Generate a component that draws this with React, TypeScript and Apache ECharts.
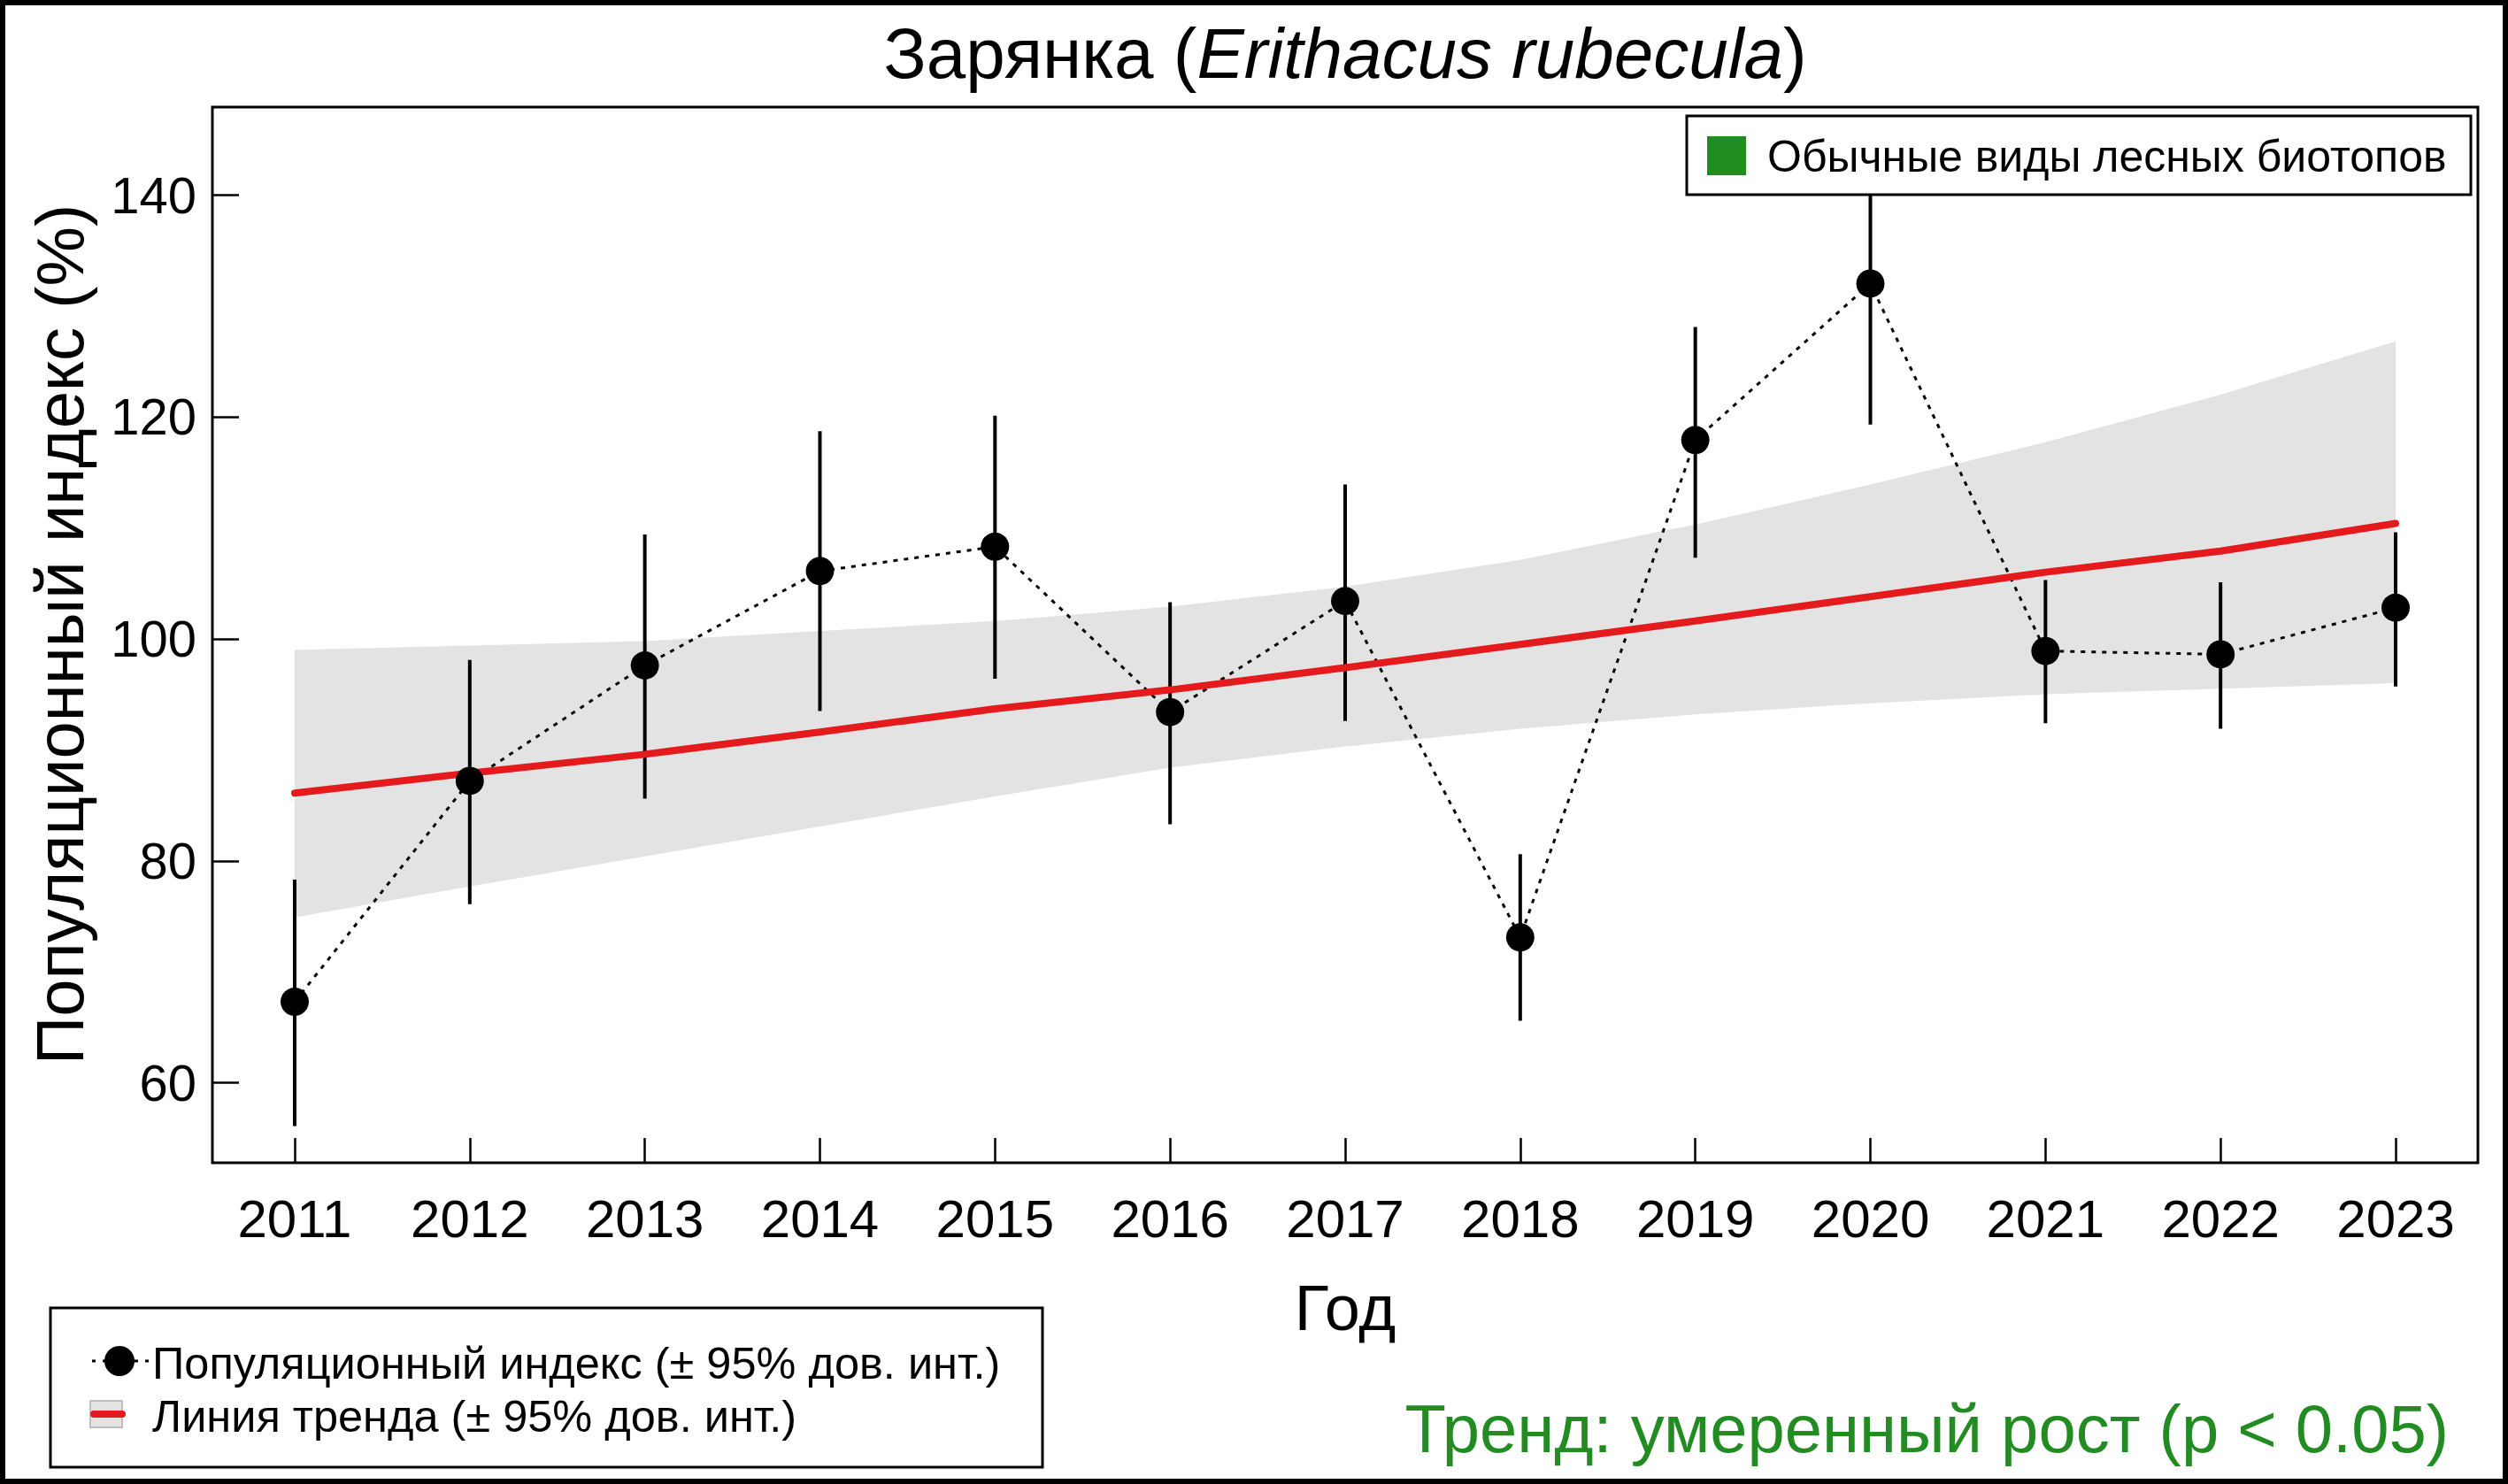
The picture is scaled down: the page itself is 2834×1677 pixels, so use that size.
import React, { useEffect, useRef } from "react";
import * as echarts from "echarts";

const years = [2011, 2012, 2013, 2014, 2015, 2016, 2017, 2018, 2019, 2020, 2021, 2022, 2023];
const indexValues = [67.3, 87.2, 97.6, 106.1, 108.3, 93.4, 103.4, 73.1, 117.9, 132.0, 98.9, 98.6, 102.8];
const indexLower = [56.1, 76.1, 85.6, 93.5, 96.4, 83.3, 92.6, 65.6, 107.3, 119.3, 92.4, 91.9, 95.7];
const indexUpper = [78.3, 98.1, 109.4, 118.7, 120.1, 103.3, 113.9, 80.6, 128.1, 144.4, 105.3, 105.1, 109.6];
const trendValues = [86.1, 87.9, 89.6, 91.6, 93.7, 95.4, 97.4, 99.5, 101.6, 103.8, 106.0, 107.9, 110.4];
const trendLower = [74.9, 77.7, 80.4, 83.1, 85.8, 88.4, 90.3, 91.9, 93.2, 94.2, 95.0, 95.5, 96.0];
const trendUpper = [99.0, 99.4, 99.8, 100.7, 101.6, 102.9, 104.7, 107.1, 110.3, 113.9, 117.7, 122.0, 126.8];
const yTicks = [60, 80, 100, 120, 140];

const FONT = '"Liberation Sans", Arial, sans-serif';
const GREEN = "#228B22";
const RED = "#e41a1c";

export default function App() {
  const ref = useRef<HTMLDivElement>(null);
  useEffect(() => {
    if (!ref.current) return;
    const chart = echarts.init(ref.current, null, { renderer: "svg" });
    const option: any = {
      animation: false,
      backgroundColor: "#fff",
      grid: {
        left: 240,
        top: 121,
        right: 34,
        bottom: 363,
        show: true,
        borderColor: "#000",
        borderWidth: 3,
        backgroundColor: "transparent",
        containLabel: false,
      },
      xAxis: {
        type: "value",
        min: 2010.53,
        max: 2023.47,
        axisLine: { show: false },
        splitLine: { show: false },
        axisTick: {
          show: true,
          inside: true,
          length: 28,
          lineStyle: { color: "#000", width: 2.5 },
          customValues: years,
        },
        axisLabel: {
          customValues: years,
          fontSize: 60,
          fontFamily: FONT,
          color: "#000",
          margin: 33,
          formatter: (v: number) => String(v),
        },
      },
      yAxis: {
        type: "value",
        min: 52.8,
        max: 147.9,
        axisLine: { show: false },
        splitLine: { show: false },
        axisTick: {
          show: true,
          inside: true,
          length: 30,
          lineStyle: { color: "#000", width: 2.5 },
          customValues: yTicks,
        },
        axisLabel: {
          customValues: yTicks,
          fontSize: 58,
          fontFamily: FONT,
          color: "#000",
          margin: 18,
          formatter: (v: number) => String(v),
        },
      },
      series: [
        {
          type: "custom",
          name: "band",
          z: 1,
          silent: true,
          data: [[years[0], trendValues[0]]],
          renderItem: (params: any, api: any) => {
            const pts: number[][] = [];
            years.forEach((y, i) => pts.push(api.coord([y, trendUpper[i]])));
            for (let i = years.length - 1; i >= 0; i--) pts.push(api.coord([years[i], trendLower[i]]));
            return { type: "polygon", shape: { points: pts }, style: { fill: "#e3e3e3" } };
          },
        },
        {
          type: "custom",
          name: "errorbars",
          z: 2,
          silent: true,
          encode: { x: 0, y: [1, 2] },
          data: years.map((y, i) => [y, indexLower[i], indexUpper[i]]),
          renderItem: (params: any, api: any) => {
            const x = api.value(0);
            const p1 = api.coord([x, api.value(1)]);
            const p2 = api.coord([x, api.value(2)]);
            return {
              type: "line",
              shape: { x1: p1[0], y1: p1[1], x2: p2[0], y2: p2[1] },
              style: { stroke: "#000", lineWidth: 4 },
            };
          },
        },
        {
          type: "line",
          name: "dotted",
          z: 3,
          silent: true,
          showSymbol: false,
          symbol: "none",
          data: years.map((y, i) => [y, indexValues[i]]),
          lineStyle: { color: "#000", width: 3, type: [5, 7] },
        },
        {
          type: "line",
          name: "trend",
          z: 4,
          silent: true,
          symbol: "none",
          data: years.map((y, i) => [y, trendValues[i]]),
          lineStyle: { color: RED, width: 8, cap: "round" },
        },
        {
          type: "scatter",
          name: "index",
          z: 5,
          silent: true,
          symbol: "circle",
          symbolSize: 32,
          itemStyle: { color: "#000", opacity: 1 },
          data: years.map((y, i) => [y, indexValues[i]]),
        },
      ],
      graphic: [
        {
          type: "rect",
          z: 200,
          shape: { x: 3, y: 3, width: 2828, height: 1671 },
          style: { fill: "none", stroke: "#000", lineWidth: 6 },
        },
        {
          type: "text",
          z: 200,
          x: 1520,
          y: 60,
          style: {
            text: "{n|Зарянка (}{i|Erithacus rubecula}{n|)}",
            rich: {
              n: { fontSize: 80, fontFamily: FONT, fill: "#000" },
              i: { fontSize: 80, fontFamily: FONT, fontStyle: "italic", fill: "#000" },
            },
            align: "center",
            verticalAlign: "middle",
            textAlign: "center",
            textVerticalAlign: "middle",
          },
        },
        {
          type: "text",
          z: 200,
          x: 67,
          y: 717,
          rotation: Math.PI / 2,
          style: {
            text: "Популяционный индекс (%)",
            font: `76px ${FONT}`,
            fill: "#000",
            align: "center",
            verticalAlign: "middle",
            textAlign: "center",
            textVerticalAlign: "middle",
          },
        },
        {
          type: "text",
          z: 200,
          x: 1520,
          y: 1478,
          style: {
            text: "Год",
            font: `72px ${FONT}`,
            fill: "#000",
            align: "center",
            verticalAlign: "middle",
            textAlign: "center",
            textVerticalAlign: "middle",
          },
        },
        {
          type: "group",
          z: 200,
          children: [
            {
              type: "rect",
              z: 200,
              shape: { x: 1906, y: 131, width: 886, height: 89 },
              style: { fill: "#fff", stroke: "#000", lineWidth: 3 },
            },
            {
              type: "rect",
              z: 201,
              shape: { x: 1929, y: 154, width: 44, height: 44 },
              style: { fill: GREEN },
            },
            {
              type: "text",
              z: 201,
              x: 1997,
              y: 177,
              style: {
                text: "Обычные виды лесных биотопов",
                font: `50px ${FONT}`,
                fill: "#000",
                align: "left",
                verticalAlign: "middle",
                textAlign: "left",
                textVerticalAlign: "middle",
              },
            },
          ],
        },
        {
          type: "group",
          z: 200,
          children: [
            {
              type: "rect",
              z: 200,
              shape: { x: 57, y: 1478, width: 1121, height: 180 },
              style: { fill: "#fff", stroke: "#000", lineWidth: 3 },
            },
            {
              type: "line",
              z: 201,
              shape: { x1: 104, y1: 1538, x2: 168, y2: 1538 },
              style: { stroke: "#000", lineWidth: 3, lineDash: [4, 8] },
            },
            {
              type: "circle",
              z: 202,
              shape: { cx: 135, cy: 1538, r: 17 },
              style: { fill: "#000" },
            },
            {
              type: "text",
              z: 201,
              x: 172,
              y: 1540,
              style: {
                text: "Популяционный индекс (± 95% дов. инт.)",
                font: `50.5px ${FONT}`,
                fill: "#000",
                align: "left",
                verticalAlign: "middle",
                textAlign: "left",
                textVerticalAlign: "middle",
              },
            },
            {
              type: "rect",
              z: 201,
              shape: { x: 102, y: 1583, width: 36, height: 30 },
              style: { fill: "#e3e3e3", stroke: "#bebebe", lineWidth: 2 },
            },
            {
              type: "line",
              z: 202,
              shape: { x1: 106, y1: 1598, x2: 138, y2: 1598 },
              style: { stroke: RED, lineWidth: 8, lineCap: "round" },
            },
            {
              type: "text",
              z: 201,
              x: 172,
              y: 1600,
              style: {
                text: "Линия тренда (± 95% дов. инт.)",
                font: `50.5px ${FONT}`,
                fill: "#000",
                align: "left",
                verticalAlign: "middle",
                textAlign: "left",
                textVerticalAlign: "middle",
              },
            },
          ],
        },
        {
          type: "text",
          z: 200,
          x: 2767,
          y: 1614,
          style: {
            text: "Тренд: умеренный рост (p < 0.05)",
            font: `76px ${FONT}`,
            fill: GREEN,
            align: "right",
            verticalAlign: "middle",
            textAlign: "right",
            textVerticalAlign: "middle",
          },
        },
      ],
    };
    chart.setOption(option);
    return () => chart.dispose();
  }, []);
  return (
    <div
      ref={ref}
      style={{ position: "fixed", left: 0, top: 0, width: 2834, height: 1677, background: "#fff" }}
    />
  );
}
